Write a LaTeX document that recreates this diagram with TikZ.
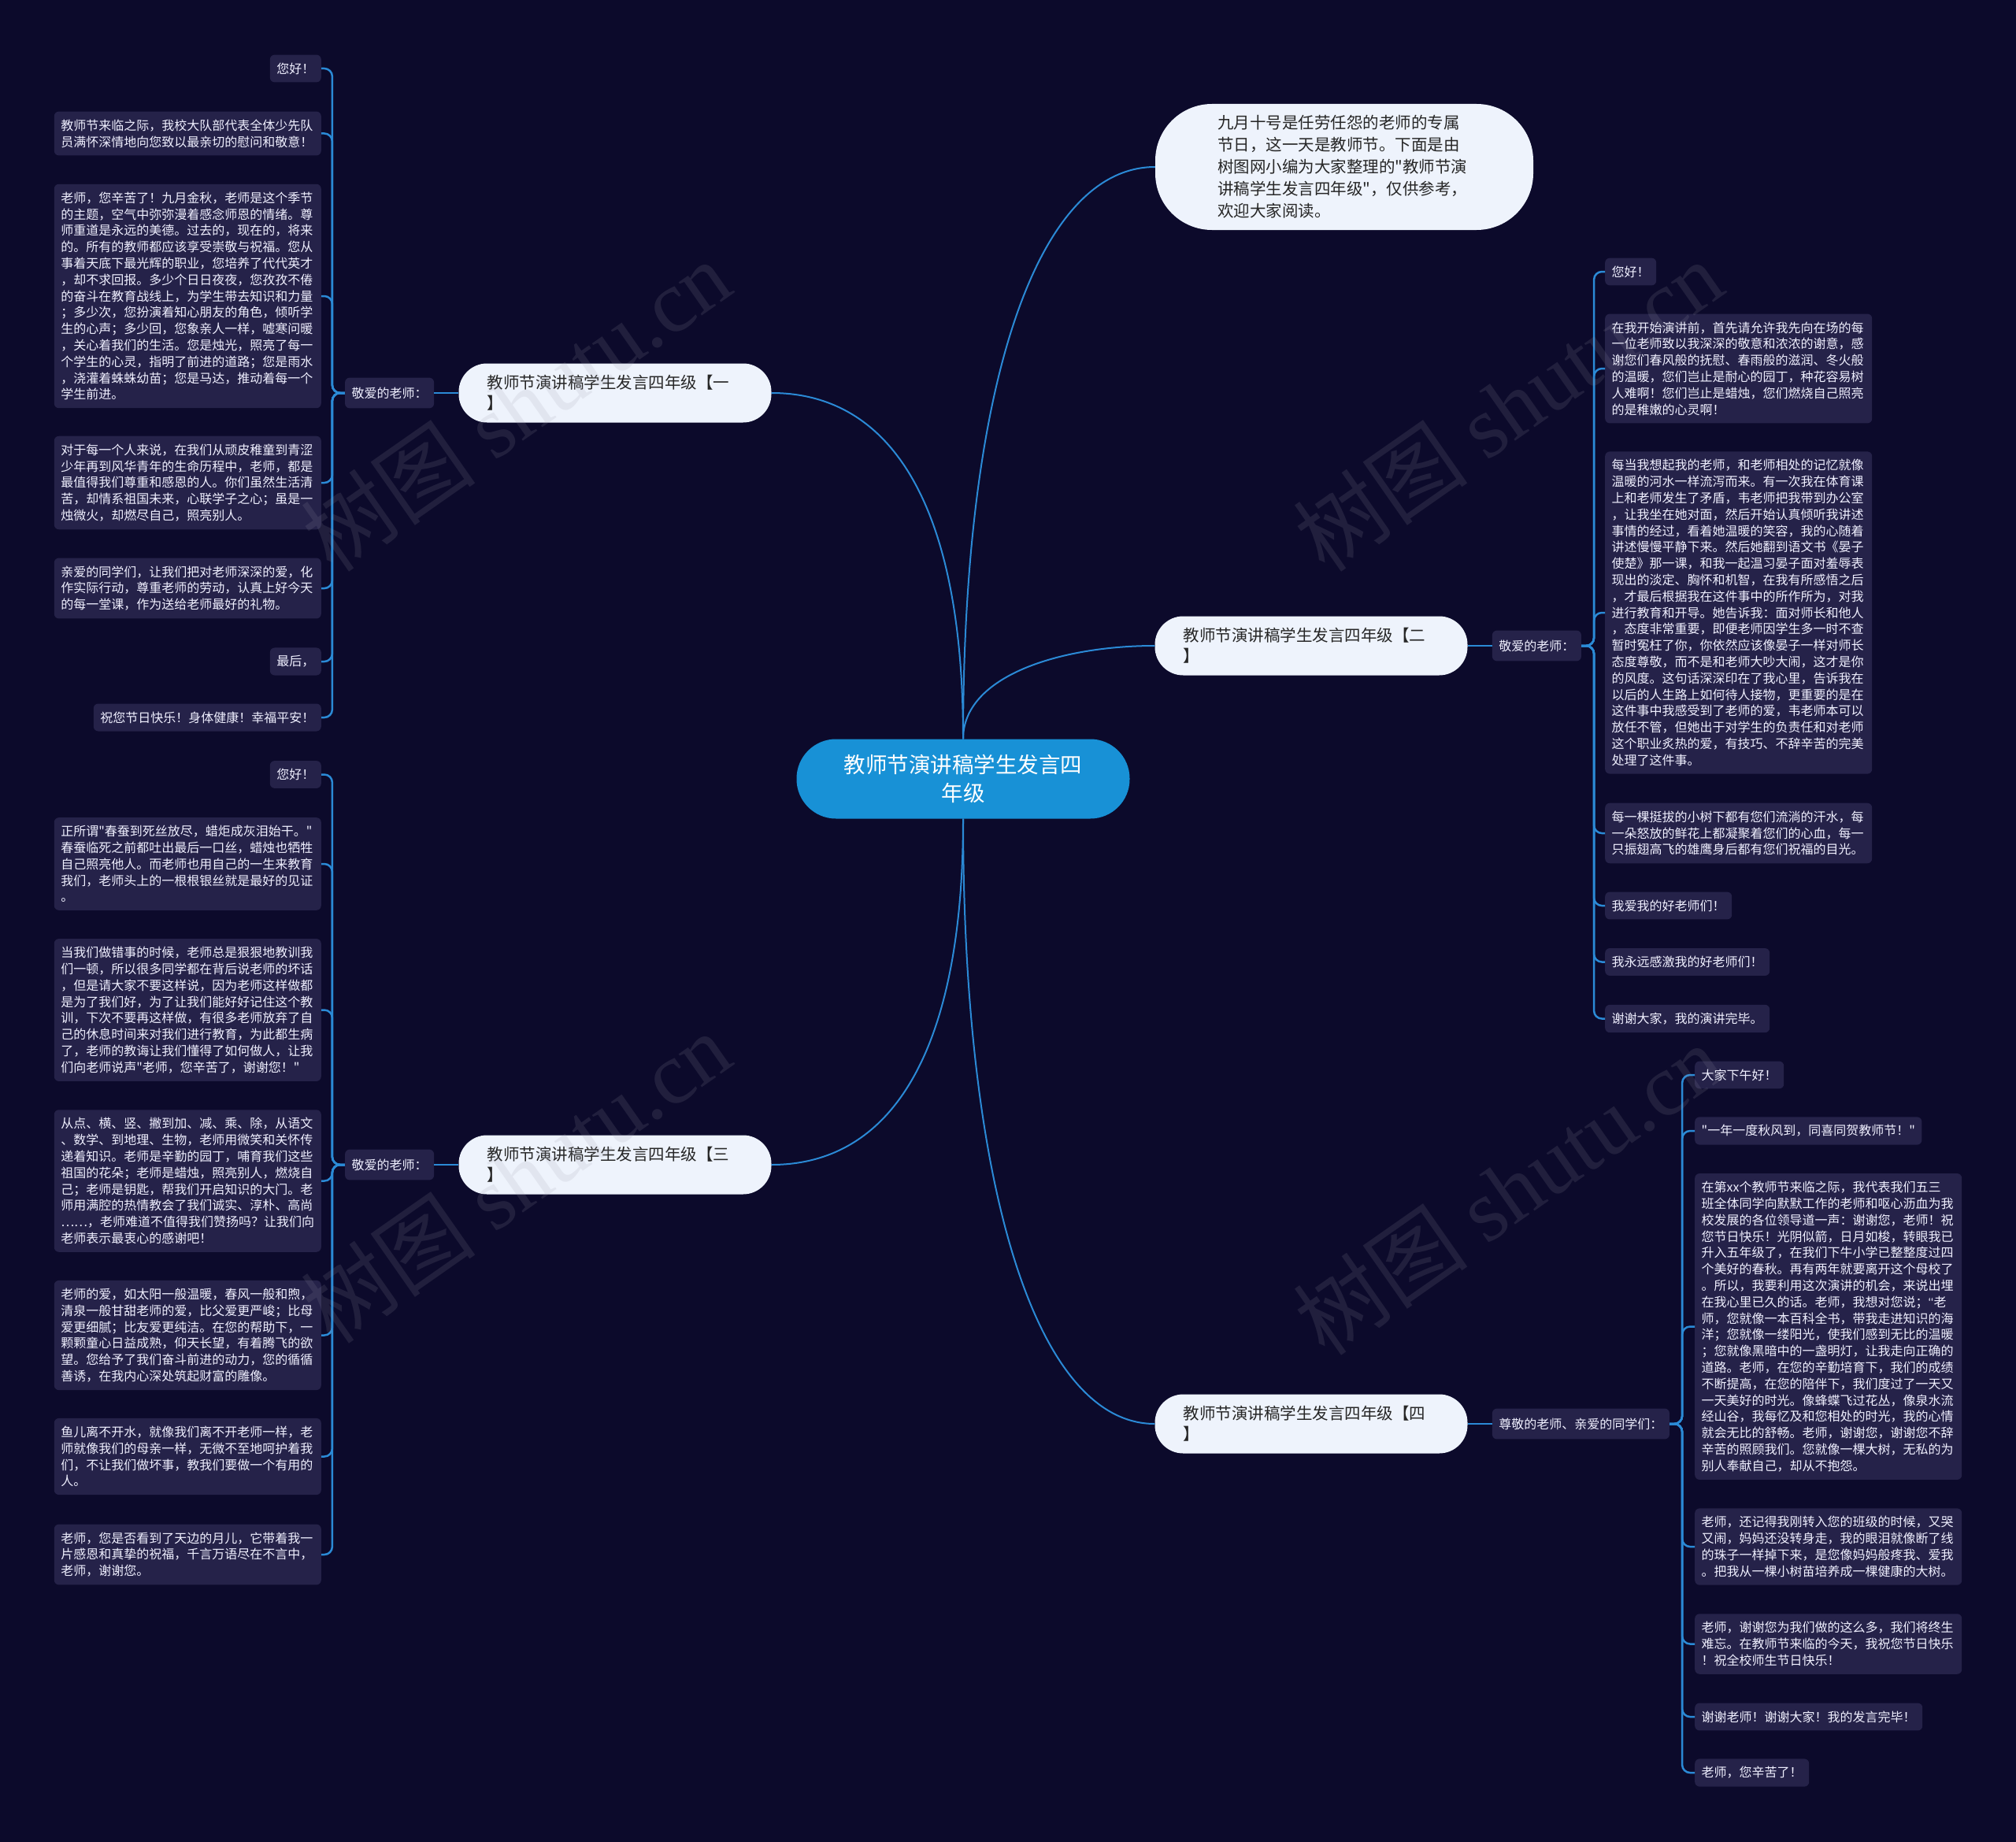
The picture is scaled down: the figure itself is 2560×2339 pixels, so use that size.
\documentclass[tikz,border=0pt]{standalone}
\usepackage{fontspec}
\setmainfont{Noto Sans CJK SC}[Ligatures=TeXOff]
\newfontfamily\marcafont{Liberation Serif}
\newfontfamily\comillas{Liberation Sans}[Ligatures=TeXOff]
\usetikzlibrary{positioning}
\definecolor{fondo}{HTML}{0C0A2B}
\definecolor{hojac}{HTML}{252249}
\definecolor{azul}{HTML}{2B8AD6}
\definecolor{raizc}{HTML}{1891D6}
\definecolor{ramac}{HTML}{EEF3FC}
\definecolor{marca}{HTML}{9A9AAA}

\begin{document}
\begin{tikzpicture}[x=1pt,y=-1pt,
  raiz/.style={fill=raizc,rounded corners=50pt,minimum width=423pt,minimum height=101pt,
               align=center,text=white,font=\fontsize{27.5}{36}\selectfont},
  intro/.style={fill=ramac,rounded corners=72pt,minimum width=480pt,minimum height=160pt,
                text width=322pt,align=left,text=black!85,font=\fontsize{20.5}{28}\selectfont},
  rama/.style={fill=ramac,rounded corners=36pt,minimum height=75pt,text width=325pt,
               inner xsep=36pt,align=left,text=black!85,font=\fontsize{20.5}{26}\selectfont},
  hoja/.style={fill=hojac,rounded corners=6pt,text=white!94!blue,inner xsep=8.5pt,inner ysep=10pt,
               align=left,font=\fontsize{16}{20.8}\selectfont},
  hojaw/.style={hoja,text width=322pt},
  rotulo/.style={hoja,inner ysep=12pt},
  enlace/.style={draw=azul,line width=2.5pt,rounded corners=10pt},
  curva/.style={draw=azul,line width=2pt},
  marcaagua/.style={text=marca,opacity=0.15,rotate=35,font=\fontsize{112}{112}\selectfont}]
  \fill[fondo] (0,0) rectangle (2560,2339);
  \useasboundingbox (0,0) rectangle (2560,2339);

  % centro y ramas
  \node[raiz] (raiz) at (1223,989) {教师节演讲稿学生发言四\\年级};
  \node[intro] (intro) at (1707,212) {九月十号是任劳任怨的老师的专属\\节日，这一天是教师节。下面是由\\树图网小编为大家整理的"教师节演\\讲稿学生发言四年级"，仅供参考，\\欢迎大家阅读。};
  \node[rama] (r1) at (781,499) {教师节演讲稿学生发言四年级【一\\】};
  \node[rama] (r2) at (1665,820) {教师节演讲稿学生发言四年级【二\\】};
  \node[rama] (r3) at (781,1479) {教师节演讲稿学生发言四年级【三\\】};
  \node[rama] (r4) at (1665,1808) {教师节演讲稿学生发言四年级【四\\】};
  \node[rotulo,left=31pt of r1] (e1) {敬爱的老师：};
  \node[rotulo,right=31pt of r2] (e2) {敬爱的老师：};
  \node[rotulo,left=31pt of r3] (e3) {敬爱的老师：};
  \node[rotulo,right=31pt of r4] (e4) {尊敬的老师、亲爱的同学们：};

  \draw[curva] (raiz.north) .. controls +(0,-450) and +(-150,0) .. (intro.west);
  \draw[curva] (raiz.north) .. controls +(0,-300) and +(150,0) .. (r1.east);
  \draw[curva] (raiz.north) .. controls +(0,-80) and +(-120,0) .. (r2.west);
  \draw[curva] (raiz.south) .. controls +(0,300) and +(150,0) .. (r3.east);
  \draw[curva] (raiz.south) .. controls +(0,470) and +(-150,0) .. (r4.west);
  \draw[enlace] (r1.west) -- (e1.east);
  \draw[enlace] (r2.east) -- (e2.west);
  \draw[enlace] (r3.west) -- (e3.east);
  \draw[enlace] (r4.east) -- (e4.west);

  % rama 1
  \node[hoja,anchor=east] (h11) at (408,87) {您好！};
  \node[hojaw,anchor=east] (h12) at (408,169.5) {教师节来临之际，我校大队部代表全体少先队\\员满怀深情地向您致以最亲切的慰问和敬意！};
  \node[hojaw,anchor=east] (h13) at (408,376) {老师，您辛苦了！九月金秋，老师是这个季节\\的主题，空气中弥弥漫着感念师恩的情绪。尊\\师重道是永远的美德。过去的，现在的，将来\\的。所有的教师都应该享受崇敬与祝福。您从\\事着天底下最光辉的职业，您培养了代代英才\\，却不求回报。多少个日日夜夜，您孜孜不倦\\的奋斗在教育战线上，为学生带去知识和力量\\；多少次，您扮演着知心朋友的角色，倾听学\\生的心声；多少回，您象亲人一样，嘘寒问暖\\，关心着我们的生活。您是烛光，照亮了每一\\个学生的心灵，指明了前进的道路；您是雨水\\，浇灌着蛛蛛幼苗；您是马达，推动着每一个\\学生前进。};
  \node[hojaw,anchor=east] (h14) at (408,613) {对于每一个人来说，在我们从顽皮稚童到青涩\\少年再到风华青年的生命历程中，老师，都是\\最值得我们尊重和感恩的人。你们虽然生活清\\苦，却情系祖国未来，心联学子之心；虽是一\\烛微火，却燃尽自己，照亮别人。};
  \node[hojaw,anchor=east] (h15) at (408,747) {亲爱的同学们，让我们把对老师深深的爱，化\\作实际行动，尊重老师的劳动，认真上好今天\\的每一堂课，作为送给老师最好的礼物。};
  \node[hoja,anchor=east] (h16) at (408,840) {最后，};
  \node[hoja,anchor=east] (h17) at (408,911) {祝您节日快乐！身体健康！幸福平安！};
  \foreach \h in {h11,h12,h13,h14,h15,h16,h17}
    \draw[enlace] (e1.west) -- ++(-16,0) |- (\h.east);

  % rama 2
  \node[hoja,anchor=west] (h21) at (2038,345) {您好！};
  \node[hojaw,anchor=west] (h22) at (2038,468) {在我开始演讲前，首先请允许我先向在场的每\\一位老师致以我深深的敬意和浓浓的谢意，感\\谢您们春风般的抚慰、春雨般的滋润、冬火般\\的温暖，您们岂止是耐心的园丁，种花容易树\\人难啊！您们岂止是蜡烛，您们燃烧自己照亮\\的是稚嫩的心灵啊！};
  \node[hojaw,anchor=west] (h23) at (2038,778) {每当我想起我的老师，和老师相处的记忆就像\\温暖的河水一样流泻而来。有一次我在体育课\\上和老师发生了矛盾，韦老师把我带到办公室\\，让我坐在她对面，然后开始认真倾听我讲述\\事情的经过，看着她温暖的笑容，我的心随着\\讲述慢慢平静下来。然后她翻到语文书《晏子\\使楚》那一课，和我一起温习晏子面对羞辱表\\现出的淡定、胸怀和机智，在我有所感悟之后\\，才最后根据我在这件事中的所作所为，对我\\进行教育和开导。她告诉我：面对师长和他人\\，态度非常重要，即便老师因学生多一时不查\\暂时冤枉了你，你依然应该像晏子一样对师长\\态度尊敬，而不是和老师大吵大闹，这才是你\\的风度。这句话深深印在了我心里，告诉我在\\以后的人生路上如何待人接物，更重要的是在\\这件事中我感受到了老师的爱，韦老师本可以\\放任不管，但她出于对学生的负责任和对老师\\这个职业炙热的爱，有技巧、不辞辛苦的完美\\处理了这件事。};
  \node[hojaw,anchor=west] (h24) at (2038,1058) {每一棵挺拔的小树下都有您们流淌的汗水，每\\一朵怒放的鲜花上都凝聚着您们的心血，每一\\只振翅高飞的雄鹰身后都有您们祝福的目光。};
  \node[hoja,anchor=west] (h25) at (2038,1150) {我爱我的好老师们！};
  \node[hoja,anchor=west] (h26) at (2038,1221.5) {我永远感激我的好老师们！};
  \node[hoja,anchor=west] (h27) at (2038,1293.5) {谢谢大家，我的演讲完毕。};
  \foreach \h in {h21,h22,h23,h24,h25,h26,h27}
    \draw[enlace] (e2.east) -- ++(16,0) |- (\h.west);

  % rama 3
  \node[hoja,anchor=east] (h31) at (408,983.5) {您好！};
  \node[hojaw,anchor=east] (h32) at (408,1097) {正所谓"春蚕到死丝放尽，蜡炬成灰泪始干。"\\春蚕临死之前都吐出最后一口丝，蜡烛也牺牲\\自己照亮他人。而老师也用自己的一生来教育\\我们，老师头上的一根根银丝就是最好的见证\\。};
  \node[hojaw,anchor=east] (h33) at (408,1282.5) {当我们做错事的时候，老师总是狠狠地教训我\\们一顿，所以很多同学都在背后说老师的坏话\\，但是请大家不要这样说，因为老师这样做都\\是为了我们好，为了让我们能好好记住这个教\\训，下次不要再这样做，有很多老师放弃了自\\己的休息时间来对我们进行教育，为此都生病\\了，老师的教诲让我们懂得了如何做人，让我\\们向老师说声"老师，您辛苦了，谢谢您！"};
  \node[hojaw,anchor=east] (h34) at (408,1499.5) {从点、横、竖、撇到加、减、乘、除，从语文\\、数学、到地理、生物，老师用微笑和关怀传\\递着知识。老师是辛勤的园丁，哺育我们这些\\祖国的花朵；老师是蜡烛，照亮别人，燃烧自\\己；老师是钥匙，帮我们开启知识的大门。老\\师用满腔的热情教会了我们诚实、淳朴、高尚\\……，老师难道不值得我们赞扬吗？让我们向\\老师表示最衷心的感谢吧！};
  \node[hojaw,anchor=east] (h35) at (408,1695.5) {老师的爱，如太阳一般温暖，春风一般和煦，\\清泉一般甘甜老师的爱，比父爱更严峻；比母\\爱更细腻；比友爱更纯洁。在您的帮助下，一\\颗颗童心日益成熟，仰天长望，有着腾飞的欲\\望。您给予了我们奋斗前进的动力，您的循循\\善诱，在我内心深处筑起财富的雕像。};
  \node[hojaw,anchor=east] (h36) at (408,1849.5) {鱼儿离不开水，就像我们离不开老师一样，老\\师就像我们的母亲一样，无微不至地呵护着我\\们，不让我们做坏事，教我们要做一个有用的\\人。};
  \node[hojaw,anchor=east] (h37) at (408,1974) {老师，您是否看到了天边的月儿，它带着我一\\片感恩和真挚的祝福，千言万语尽在不言中，\\老师，谢谢您。};
  \foreach \h in {h31,h32,h33,h34,h35,h36,h37}
    \draw[enlace] (e3.west) -- ++(-16,0) |- (\h.east);

  % rama 4
  \node[hoja,anchor=west] (h41) at (2152,1365) {大家下午好！};
  \node[hoja,anchor=west] (h42) at (2152,1436) {"一年一度秋风到，同喜同贺教师节！"};
  \node[hojaw,anchor=west] (h43) at (2152,1684.5) {在第xx个教师节来临之际，我代表我们五三\\班全体同学向默默工作的老师和呕心沥血为我\\校发展的各位领导道一声：谢谢您，老师！祝\\您节日快乐！光阴似箭，日月如梭，转眼我已\\升入五年级了，在我们下牛小学已整整度过四\\个美好的春秋。再有两年就要离开这个母校了\\。所以，我要利用这次演讲的机会，来说出埋\\在我心里已久的话。老师，我想对您说；{\comillas ‘‘}老\\师，您就像一本百科全书，带我走进知识的海\\洋；您就像一缕阳光，使我们感到无比的温暖\\；您就像黑暗中的一盏明灯，让我走向正确的\\道路。老师，在您的辛勤培育下，我们的成绩\\不断提高，在您的陪伴下，我们度过了一天又\\一天美好的时光。像蜂蝶飞过花丛，像泉水流\\经山谷，我每忆及和您相处的时光，我的心情\\就会无比的舒畅。老师，谢谢您，谢谢您不辞\\辛苦的照顾我们。您就像一棵大树，无私的为\\别人奉献自己，却从不抱怨。};
  \node[hojaw,anchor=west] (h44) at (2152,1964) {老师，还记得我刚转入您的班级的时候，又哭\\又闹，妈妈还没转身走，我的眼泪就像断了线\\的珠子一样掉下来，是您像妈妈般疼我、爱我\\。把我从一棵小树苗培养成一棵健康的大树。};
  \node[hojaw,anchor=west] (h45) at (2152,2087.5) {老师，谢谢您为我们做的这么多，我们将终生\\难忘。在教师节来临的今天，我祝您节日快乐\\！祝全校师生节日快乐！};
  \node[hoja,anchor=west] (h46) at (2152,2180) {谢谢老师！谢谢大家！我的发言完毕！};
  \node[hoja,anchor=west] (h47) at (2152,2251) {老师，您辛苦了！};
  \foreach \h in {h41,h42,h43,h44,h45,h46,h47}
    \draw[enlace] (e4.east) -- ++(16,0) |- (\h.west);

  % marca de agua
  \node[marcaagua] (m1) at (655,515) {树图 {\marcafont shutu.cn}};
  \node[marcaagua] (m2) at (1915,515) {树图 {\marcafont shutu.cn}};
  \node[marcaagua] (m3) at (655,1495) {树图 {\marcafont shutu.cn}};
  \node[marcaagua] (m4) at (1915,1510) {树图 {\marcafont shutu.cn}};
\end{tikzpicture}
\end{document}
